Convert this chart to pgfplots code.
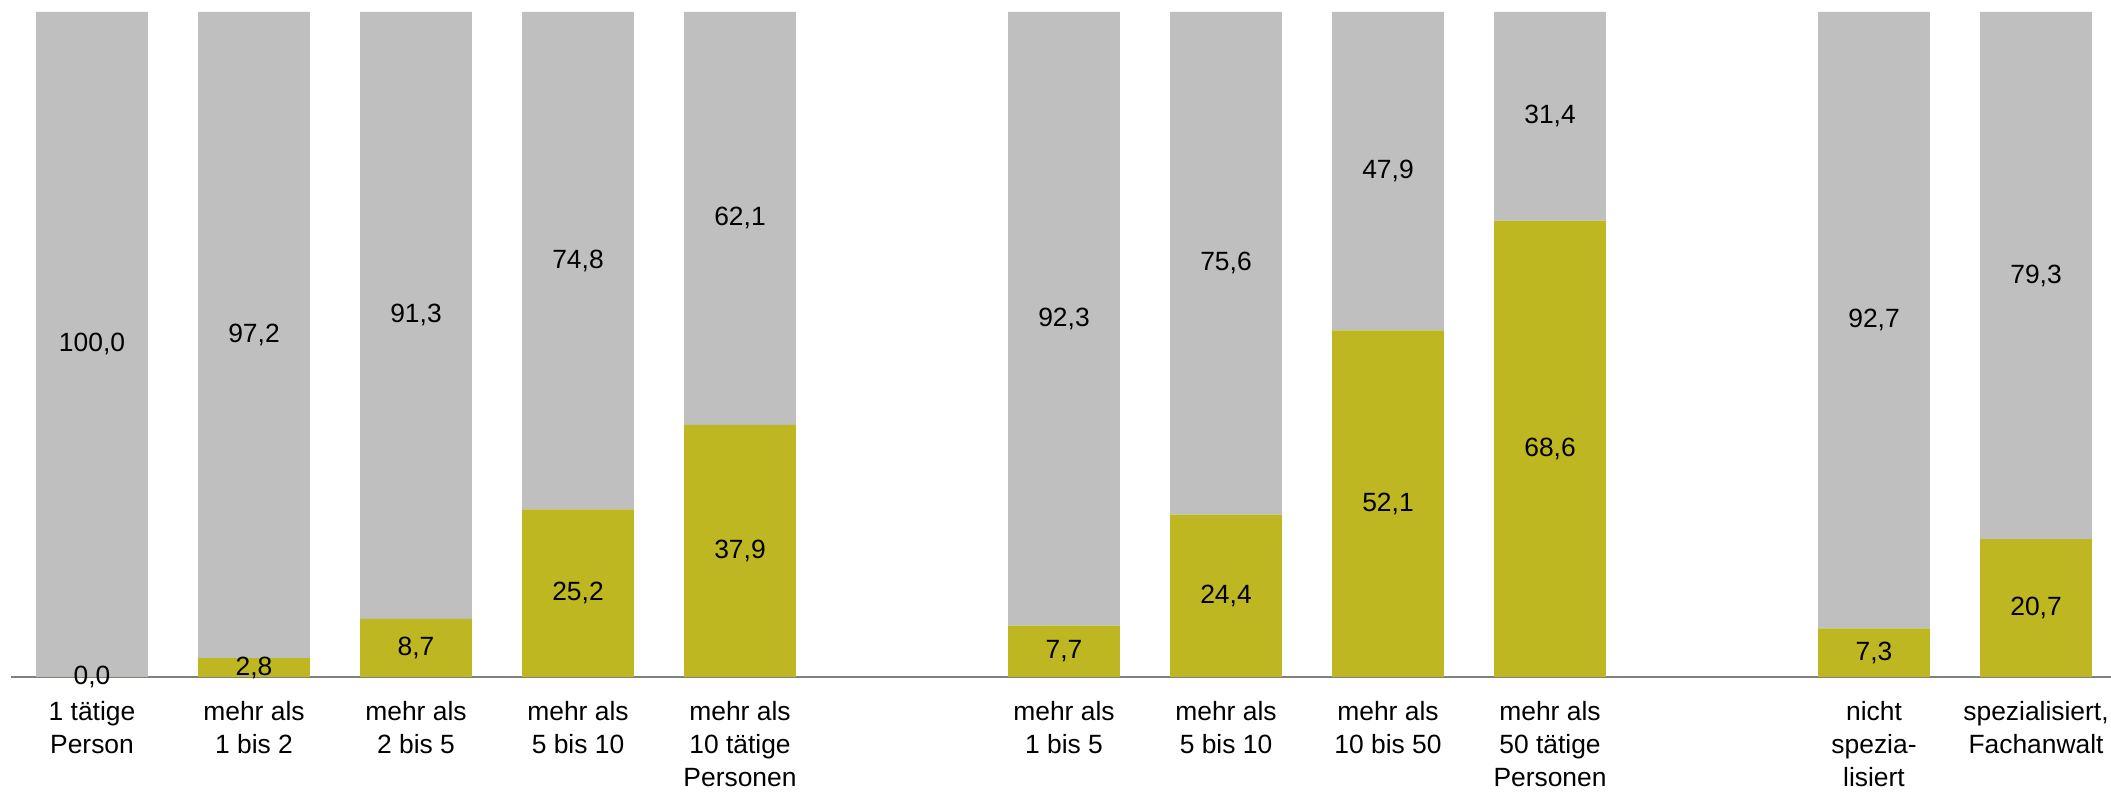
\documentclass[border=0pt]{standalone}
\usepackage{fontspec}
\setmainfont{Liberation Sans}
\usepackage{pgfplots}
\pgfplotsset{compat=1.18}
\definecolor{barolive}{RGB}{190,183,33}
\definecolor{bargrey}{RGB}{191,191,191}
\definecolor{axisgrey}{RGB}{128,128,128}
\begin{document}
\begin{tikzpicture}
\begin{axis}[
  scale only axis,
  width=525pt, height=166.2pt,
  xmin=-0.5, xmax=12.463, ymin=0, ymax=100,
  enlargelimits=false,
  clip=false,
  ybar stacked,
  bar width=0.691,
  axis x line*=bottom,
  axis y line=none,
  x axis line style={draw=axisgrey, line width=0.5pt},
  xtick={0,1,2,3,4,6,7,8,9,11,12},
  xticklabels={{1 tätige\\Person},{mehr als\\1 bis 2},{mehr als\\2 bis 5},{mehr als\\5 bis 10},{mehr als\\10 tätige\\Personen},{mehr als\\1 bis 5},{mehr als\\5 bis 10},{mehr als\\10 bis 50},{mehr als\\50 tätige\\Personen},{nicht\\spezia-\\lisiert},{spezialisiert,\\Fachanwalt}},
  xtick style={draw=none},
  major tick length=0pt,
  ytick=\empty,
  xticklabel style={align=center, anchor=north, yshift=-2.6pt, font=\fontsize{6.6}{8.3}\selectfont},
  /pgf/number format/.cd, use comma, fixed, fixed zerofill, precision=1, assume math mode=true,
  /pgfplots/.cd,
  visualization depends on={rawy \as \rawy},
  nodes near coords={\pgfmathprintnumber{\rawy}},
  every node near coord/.append style={anchor=center, font=\fontsize{6.6}{8.3}\selectfont, text=black},
]
\addplot[fill=barolive, draw=none] coordinates {
  (0,0.001) (1,2.8) (2,8.7) (3,25.2) (4,37.9) (6,7.7) (7,24.4) (8,52.1) (9,68.6) (11,7.3) (12,20.7)
};
\addplot[fill=bargrey, draw=none] coordinates {
  (0,100.0) (1,97.2) (2,91.3) (3,74.8) (4,62.1) (6,92.3) (7,75.6) (8,47.9) (9,31.4) (11,92.7) (12,79.3)
};
\end{axis}
\pgfresetboundingbox
\path[use as bounding box] ([shift={(-2.75pt,-30.8pt)}]current axis.south west) rectangle ([shift={(0pt,3pt)}]current axis.north east);
\end{tikzpicture}
\end{document}
